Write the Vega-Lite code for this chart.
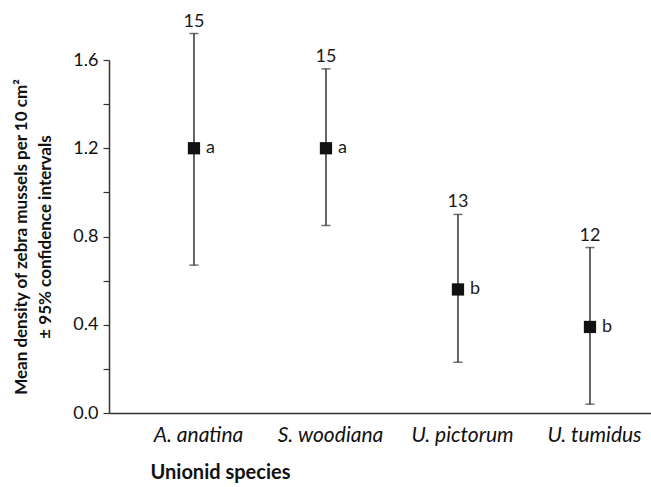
{
  "$schema": "https://vega.github.io/schema/vega-lite/v6.json",
  "autosize": "none",
  "width": 542,
  "height": 353,
  "padding": {"left": 109, "top": 60, "right": 0, "bottom": 74},
  "background": "white",
  "config": {
    "view": {"stroke": null},
    "font": "Lato",
    "text": {"font": "Lato", "color": "#1a1a1a"}
  },
  "data": {
    "values": [
      {"species": "A. anatina", "mean": 1.2, "lo": 0.67, "hi": 1.72, "n": 15, "group": "a"},
      {"species": "S. woodiana", "mean": 1.2, "lo": 0.85, "hi": 1.56, "n": 15, "group": "a"},
      {"species": "U. pictorum", "mean": 0.56, "lo": 0.23, "hi": 0.9, "n": 13, "group": "b"},
      {"species": "U. tumidus", "mean": 0.39, "lo": 0.04, "hi": 0.75, "n": 12, "group": "b"}
    ]
  },
  "encoding": {
    "x": {
      "field": "species",
      "type": "nominal",
      "sort": null,
      "scale": {"type": "point", "padding": 0.553, "align": 0.582},
      "axis": {
        "title": "Unionid species",
        "titleFont": "Lato",
        "titleFontSize": 20,
        "titleFontWeight": "bold",
        "titleColor": "#111",
        "titleAnchor": "start",
        "titleAlign": "left",
        "titleBaseline": "middle",
        "titleX": 41,
        "titleY": 59,
        "labelFont": "Lato",
        "labelFontSize": 21,
        "labelFontStyle": "italic",
        "labelColor": "#111",
        "labelAngle": 0,
        "labelPadding": 11,
        "labelOffset": 4,
        "labelOverlap": false,
        "labelBound": false,
        "labelFlush": false,
        "ticks": false,
        "grid": false,
        "domainColor": "#333",
        "domainWidth": 1.5
      }
    }
  },
  "layer": [
    {
      "mark": {"type": "rule", "color": "#333", "strokeWidth": 1.5},
      "encoding": {
        "y": {
          "field": "lo",
          "type": "quantitative",
          "scale": {"domain": [0, 1.6], "nice": false, "zero": true},
          "axis": {
            "title": ["Mean density of zebra mussels per 10 cm²", "± 95% confidence intervals"],
            "titleFont": "Lato",
            "titleFontSize": 17,
            "titleFontWeight": "bold",
            "titleColor": "#111",
            "titleLineHeight": 24,
            "titleBaseline": "middle",
            "titleX": -88,
            "values": [0, 0.2, 0.4, 0.6, 0.8, 1.0, 1.2, 1.4, 1.6],
            "labelExpr": "round(datum.value * 5) % 2 == 0 ? format(datum.value, '.1f') : ''",
            "labelFont": "Lato",
            "labelFontSize": 18,
            "labelColor": "#111",
            "labelPadding": 5,
            "tickSize": 6,
            "tickColor": "#333",
            "tickWidth": 1.2,
            "grid": false,
            "domainColor": "#333",
            "domainWidth": 1.5
          }
        },
        "y2": {"field": "hi"}
      }
    },
    {
      "mark": {"type": "tick", "color": "#333", "size": 9, "thickness": 1.5, "orient": "horizontal"},
      "encoding": {"y": {"field": "lo", "type": "quantitative"}}
    },
    {
      "mark": {"type": "tick", "color": "#333", "size": 9, "thickness": 1.5, "orient": "horizontal"},
      "encoding": {"y": {"field": "hi", "type": "quantitative"}}
    },
    {
      "mark": {"type": "point", "shape": "square", "filled": true, "size": 150, "color": "#111", "opacity": 1},
      "encoding": {"y": {"field": "mean", "type": "quantitative"}}
    },
    {
      "mark": {"type": "text", "fontSize": 18, "baseline": "alphabetic", "align": "center", "dy": -7},
      "encoding": {
        "y": {"field": "hi", "type": "quantitative"},
        "text": {"field": "n", "type": "quantitative"}
      }
    },
    {
      "mark": {"type": "text", "fontSize": 18, "baseline": "middle", "align": "left", "dx": 12},
      "encoding": {
        "y": {"field": "mean", "type": "quantitative"},
        "text": {"field": "group", "type": "nominal"}
      }
    }
  ]
}
